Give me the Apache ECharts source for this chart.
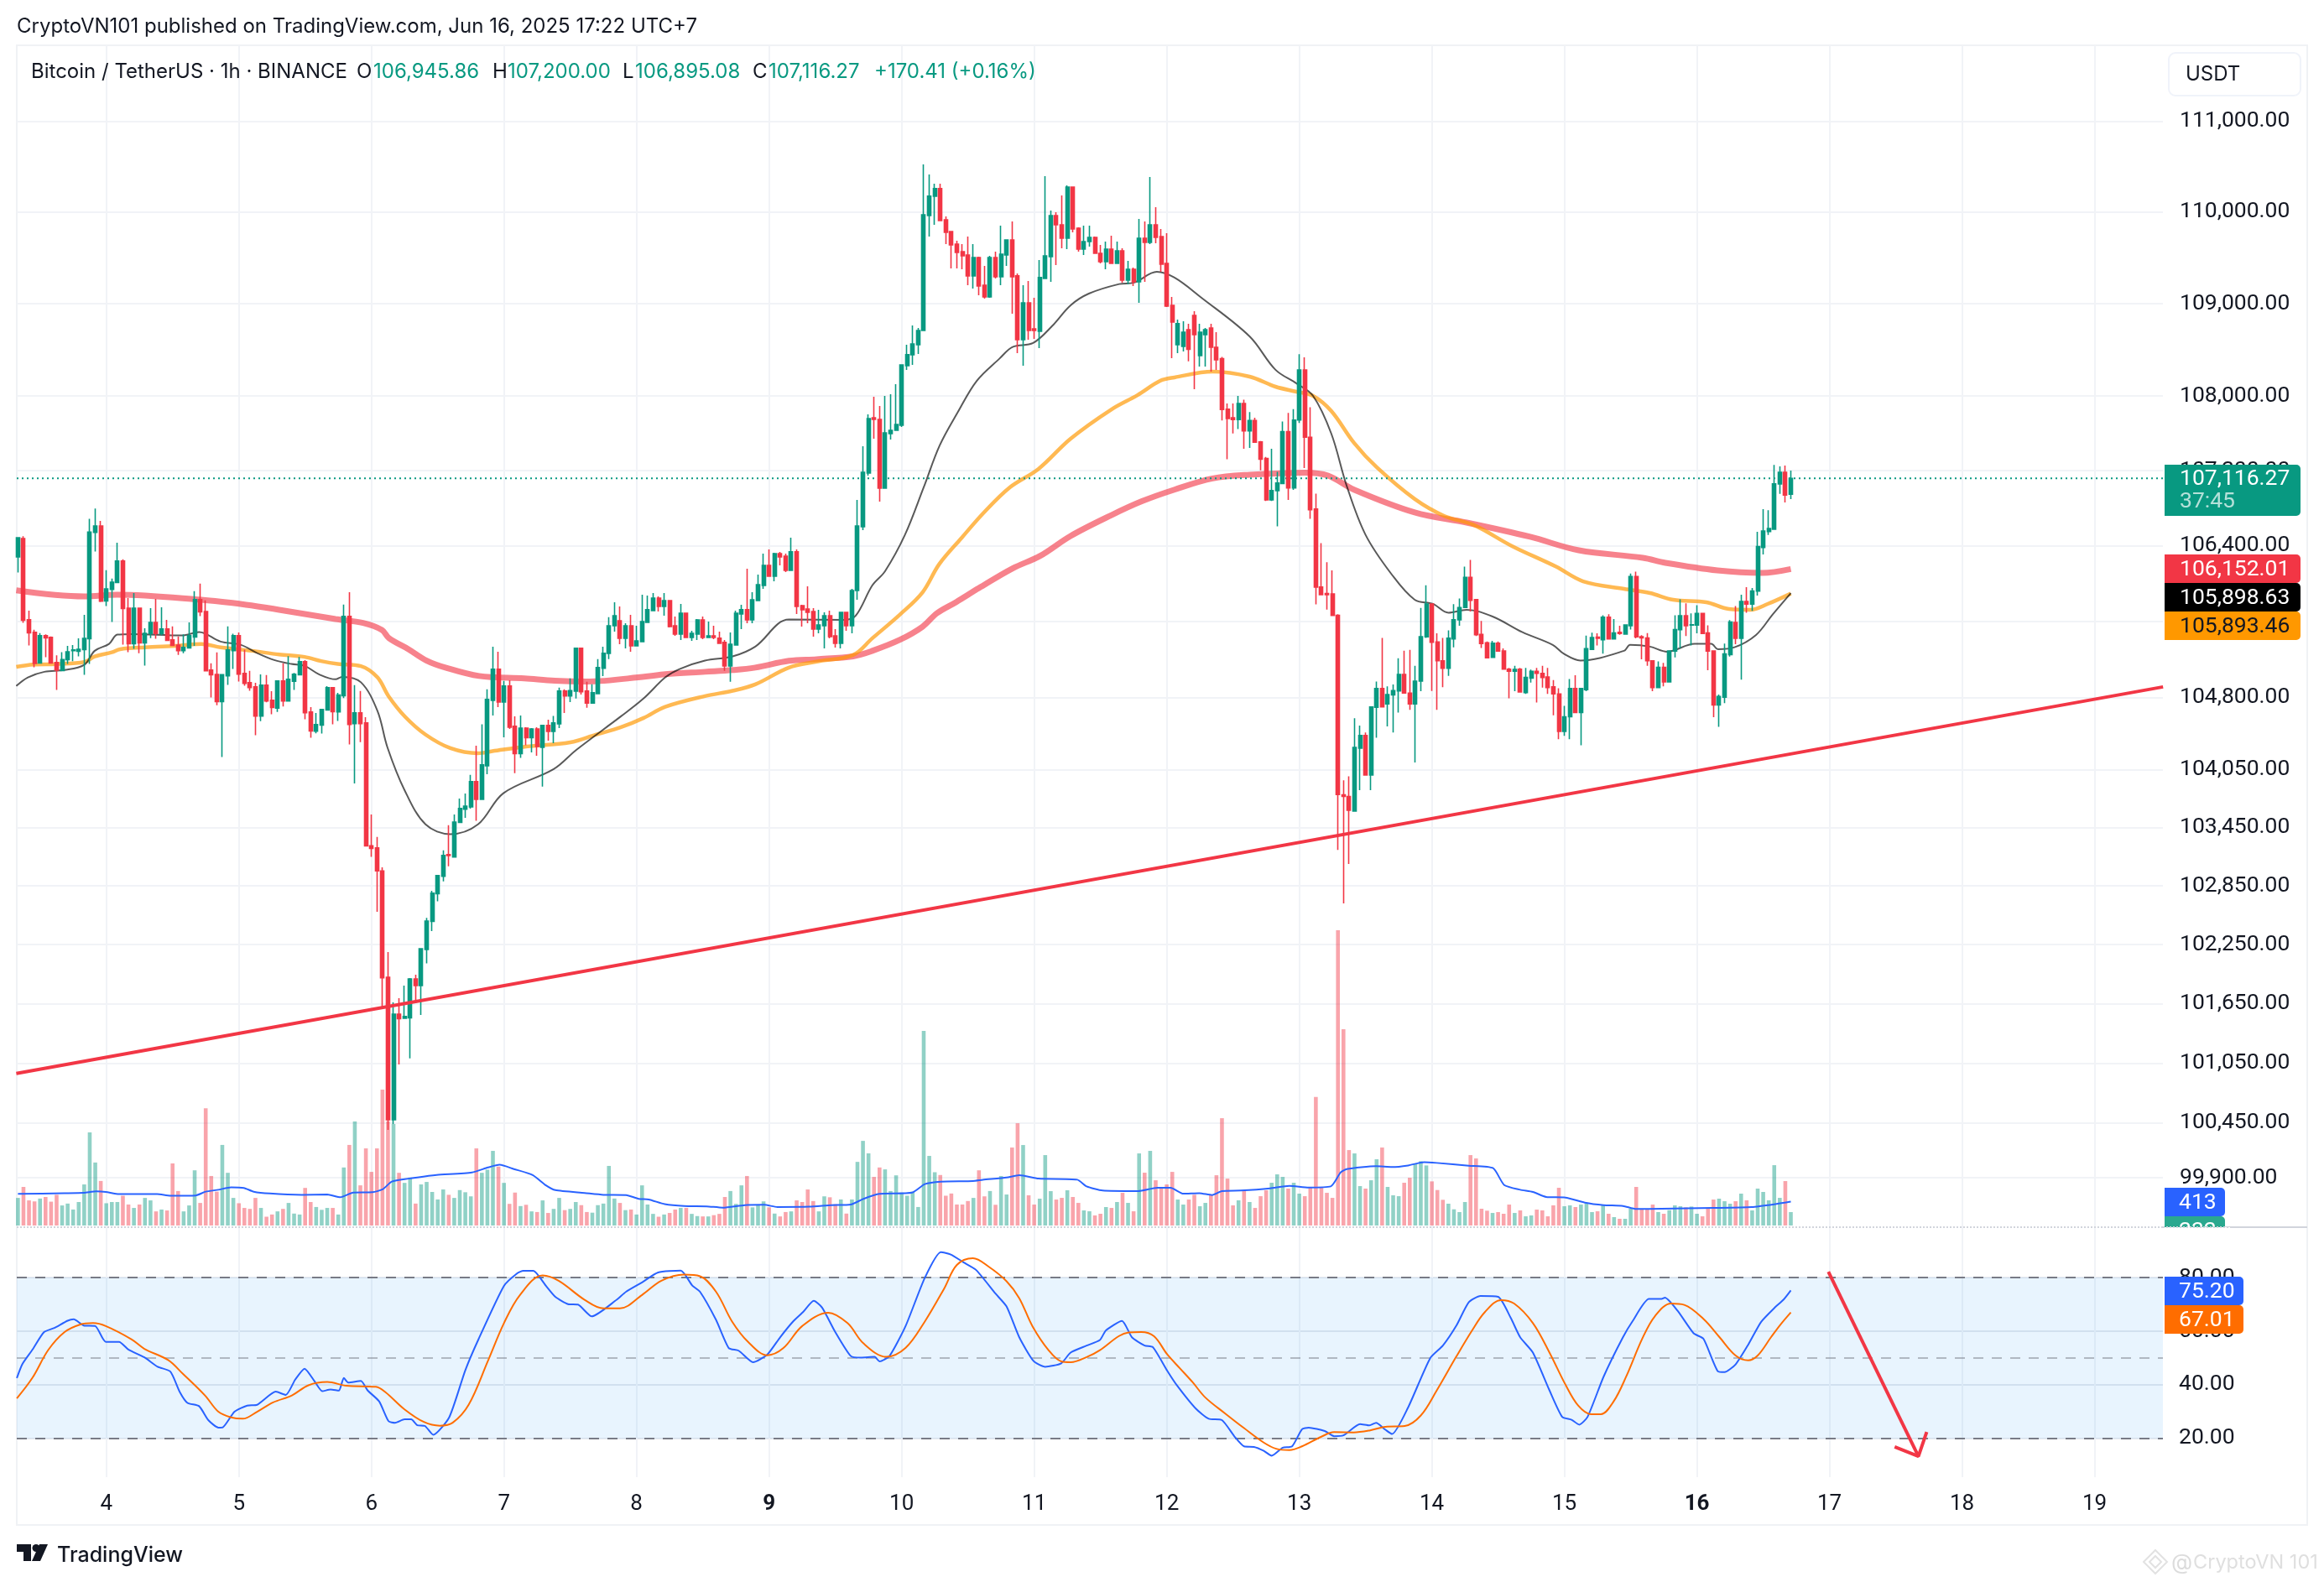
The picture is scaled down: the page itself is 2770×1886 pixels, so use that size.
<!DOCTYPE html>
<html><head><meta charset="utf-8">
<style>html,body{margin:0;padding:0;background:#fff}#c{width:2770px;height:1886px}</style>
<script src="https://cdn.jsdelivr.net/npm/echarts@6/dist/echarts.min.js"></script>
</head><body><div id="c"></div>
<script>
// Hour index of the first candle, counted from Jun 4 00:00 (UTC+7)
const firstBar = -16;
const dayLabels = ['4','5','6','7','8','9','10','11','12','13','14','15','16','17','18','19'];
const boldDays = ['9','16'];
const priceTicks = [111000,110000,109000,108000,107200,106400,105600,104800,104050,103450,102850,102250,101650,101050,100450,99900];
const rsiTicks = [20,40,60,80];
// open, high, low, close
const ohlc = [
[106280,106485,106116,106485],[106476,106500,105585,105612],[105618,105712,105346,105479],[105485,105512,105117,105158],
[105161,105476,105161,105450],[105450,105462,105223,105426],[105432,105441,105161,105161],[105167,105243,104881,105088],
[105082,105276,105082,105199],[105196,105341,105153,105279],[105291,105350,105182,105300],[105285,105420,105231,105305],
[105302,105668,105039,105420],[105417,106686,105153,106544],[106541,106795,106338,106609],[106609,106662,105803,105812],
[105815,106140,105762,105942],[105936,106051,105594,106013],[106010,106432,106010,106237],[106237,106255,105355,105736],
[105739,105845,105276,105364],[105364,105898,105311,105739],[105739,105739,105264,105373],[105373,105526,105135,105473],
[105473,105739,105423,105588],[105588,105836,105417,105473],[105473,105747,105453,105520],[105520,105615,105400,105400],
[105405,105547,105346,105346],[105350,105441,105246,105291],[105291,105462,105264,105326],[105320,105588,105320,105450],
[105435,105919,105341,105830],[105830,105998,105656,105700],[105703,105821,105080,105080],[105088,105158,104802,105039],
[105042,105273,104720,104758],[104758,105042,104180,105039],[105027,105547,104933,105300],[105291,105470,105100,105450],
[105450,105482,104969,105045],[105053,105302,104925,104948],[104957,105080,104872,104904],[104913,104954,104407,104606],
[104606,105042,104554,104931],[104931,105036,104750,104764],[104773,104866,104627,104697],[104691,104974,104650,104974],
[104974,105158,104706,104764],[104764,105234,104764,104992],[104971,105059,104881,105045],[105039,105226,105039,105176],
[105176,105191,104574,104642],[104650,104700,104382,104452],[104449,104639,104428,104519],[104513,104682,104425,104677],
[104671,104919,104671,104904],[104904,104904,104522,104653],[104650,104849,104557,104826],[104820,105777,104794,105653],
[105653,105907,104312,104519],[104527,104931,103906,104641],[104641,104869,104335,104527],[104535,104596,103262,103262],
[103262,103586,103148,103235],[103241,103353,102585,103004],[103004,103042,101612,101912],[101918,102174,100378,100480],
[100480,101663,100437,101544],[101544,101705,101036,101497],[101502,101833,101502,101519],[101506,101909,101096,101900],
[101900,101943,101654,101833],[101833,102208,101536,102208],[102200,102524,102058,102490],[102486,102801,102387,102775],
[102770,102956,102692,102956],[102948,103215,102896,103163],[103172,103474,103051,103163],[103146,103586,103146,103508],
[103503,103751,103503,103647],[103641,103803,103550,103672],[103664,103995,103647,103925],[103925,104299,103521,103742],
[103742,104522,103742,104099],[104090,104886,104003,104780],[104772,105334,104614,105096],[105096,105281,104701,104754],
[104754,104974,104386,104921],[104921,104982,104473,104491],[104500,104605,104012,104216],[104216,104614,104172,104482],
[104482,104491,104303,104381],[104381,104482,104229,104473],[104473,104491,104194,104290],[104281,104509,103873,104509],
[104509,104570,104351,104447],[104447,104609,104325,104535],[104526,104904,104482,104868],[104868,104886,104640,104816],
[104816,105000,104754,104873],[104868,105316,104790,105316],[105316,105316,104833,104860],[104868,104965,104693,104742],
[104742,104939,104742,104851],[104842,105202,104842,105114],[105106,105333,105026,105264],[105264,105643,105202,105553],
[105553,105801,105491,105660],[105607,105757,105360,105422],[105422,105580,105316,105553],[105553,105668,105281,105342],
[105342,105553,105342,105395],[105386,105880,105386,105598],[105589,105871,105589,105722],[105713,105898,105713,105845],
[105845,105863,105704,105757],[105757,105898,105660,105819],[105819,105819,105535,105544],[105553,105651,105448,105465],
[105465,105784,105404,105686],[105686,105686,105430,105430],[105430,105500,105395,105474],[105465,105624,105404,105615],
[105615,105651,105413,105430],[105430,105598,105430,105448],[105448,105553,105413,105430],[105422,105491,105369,105369],
[105378,105404,105079,105132],[105132,105482,104965,105360],[105351,105713,105351,105686],[105677,105775,105518,105722],
[105722,106155,105580,105615],[105615,105907,105580,105827],[105819,106093,105819,105987],[105978,106316,105942,106191],
[106191,106360,106076,106076],[106076,106325,106022,106316],[106316,106334,106191,106280],[106289,106316,106120,106138],
[106138,106485,106138,106334],[106334,106360,105678,105757],[105766,105775,105544,105722],[105730,105969,105580,105695],
[105704,105740,105439,105518],[105518,105722,105474,105562],[105553,105695,105316,105660],[105660,105713,105422,105439],
[105448,105518,105325,105369],[105369,105695,105316,105695],[105695,105695,105500,105553],[105553,105942,105474,105925],
[105925,106886,105827,106610],[106600,107460,106565,107182],[107173,107803,107146,107757],[107766,107992,107541,107748],
[107748,107893,106869,107012],[107012,108001,107012,107604],[107595,108019,107532,107631],[107631,108128,107631,107694],
[107685,108336,107667,108336],[108327,108553,108282,108445],[108445,108762,108336,108562],[108553,108735,108454,108708],
[108708,110523,108708,109970],[109961,110412,109731,110173],[110173,110311,109860,110256],[110256,110311,109906,109906],
[109915,109952,109648,109777],[109786,109786,109383,109639],[109648,109685,109383,109556],[109565,109648,109374,109520],
[109529,109731,109200,109301],[109301,109648,109163,109501],[109501,109510,109090,109191],[109200,109410,109054,109072],
[109072,109520,109063,109501],[109501,109565,109273,109292],[109292,109851,109200,109538],[109529,109694,109410,109694],
[109694,109897,108890,109292],[109301,109328,108463,108608],[108608,109200,108327,109008],[109008,109246,108608,108708],
[108726,109063,108617,108708],[108699,109474,108517,109283],[109273,110394,109273,109520],[109510,110016,109237,109961],
[109961,109998,109419,109860],[109860,110182,109602,109712],[109712,110292,109593,110274],[110274,110274,109777,109814],
[109823,109832,109565,109593],[109593,109851,109529,109676],[109676,109851,109620,109722],[109722,109731,109547,109547],
[109547,109639,109437,109456],[109456,109676,109374,109593],[109593,109740,109437,109437],[109437,109676,109437,109574],
[109574,109602,109228,109255],[109255,109465,109209,109374],[109374,109392,109191,109237],[109237,109924,109008,109712],
[109712,109897,109237,109667],[109667,110385,109648,109860],[109860,110053,109658,109722],[109731,109814,109346,109428],
[109437,109768,108963,108972],[108981,109072,108409,108799],[108553,108826,108463,108781],[108535,108808,108481,108690],
[108717,108781,108373,108503],[108872,108917,108072,108662],[108436,108781,108318,108690],[108662,108735,108318,108717],
[108735,108781,108264,108526],[108526,108690,108282,108391],[108402,108422,107737,107854],[107858,107919,107321,107757],
[107765,107919,107596,107745],[107745,108000,107645,107919],[107919,107959,107433,107625],[107625,107826,107442,107737],
[107737,107765,107495,107503],[107507,107515,107202,107321],[107329,107345,106874,106886],[106886,107433,106874,106986],
[106986,107186,106606,107066],[107062,107725,107062,107616],[107616,107818,106886,107014],[107014,107858,106994,107741],
[107741,108451,107709,108281],[108281,108418,107226,107556],[107556,107878,106686,106781],[106789,106954,105778,105960],
[105962,106427,105881,105881],[105893,106225,105723,105881],[105889,106137,105663,105663],[105663,105675,103220,103792],
[103788,103939,102671,103772],[103772,103981,103075,103629],[103621,104585,103613,104280],[104272,104507,103838,104405],
[104405,104436,103993,103993],[103993,104710,103838,104702],[104698,104968,104381,104894],[104894,105426,104702,104702],
[104733,104917,104499,104831],[104827,104937,104436,104874],[104870,105212,104643,105042],[105042,105291,104847,104847],
[104847,105299,104671,104733],[104733,105133,104125,104972],[104972,105742,104866,105438],[105438,105980,105426,105782],
[105782,105790,104870,105379],[105383,105474,104671,105186],[105186,105426,104909,105107],[105107,105505,105027,105422],
[105414,105782,105327,105616],[105616,105841,105553,105746],[105746,106177,105742,106065],[106065,106248,105703,105821],
[105829,105829,105446,105458],[105462,105604,105320,105367],[105375,105387,105209,105217],[105221,105395,105217,105371],
[105371,105387,105280,105288],[105288,105316,105098,105098],[105098,105110,104792,105075],[105075,105133,104866,105094],
[105098,105110,104858,104858],[104851,105110,104839,105011],[105003,105094,104956,105075],[105075,105110,104749,105054],
[105054,105133,104905,105011],[105015,105110,104839,104905],[104913,104984,104616,104839],[104839,104898,104366,104448],
[104448,104714,104401,104600],[104600,104995,104366,104894],[104894,105034,104636,104643],[104643,104898,104303,104894],
[104882,105450,104866,105312],[105304,105481,105304,105430],[105434,105473,105347,105422],[105406,105663,105260,105644],
[105644,105675,105414,105414],[105414,105624,105414,105477],[105485,105553,105458,105473],[105466,105561,105466,105561],
[105553,106105,105513,106073],[106073,106125,105422,105438],[105438,105454,105201,105426],[105426,105477,105133,105186],
[105186,105190,104866,104905],[104905,105178,104905,105117],[105117,105163,104917,104964],[104964,105288,104956,105288],
[105288,105663,105221,105513],[105513,105833,105316,105659],[105659,105790,105446,105553],[105561,105683,105347,105565],
[105561,105770,105473,105683],[105683,105683,105473,105473],[105477,105557,105086,105288],[105288,105288,104596,104722],
[104722,104831,104495,104812],[104804,105367,104741,105257],[105249,105612,105229,105592],[105588,105762,105359,105422],
[105422,105881,104987,105809],[105809,105960,105691,105782],[105782,105952,105711,105921],[105918,106547,105872,106390],
[106381,106788,106307,106556],[106550,106776,106514,106583],[106574,107261,106574,107057],[107057,107245,106950,107182],
[107182,107254,106860,106938],[106946,107200,106895,107116]
];
const volumes = [
477,667,434,417,466,493,412,531,347,379,276,406,710,1610,1089,770,
385,406,406,515,363,304,363,477,434,244,276,260,1073,596,244,347,954,390,2027,856,585,1393,911,477,
385,304,287,477,304,152,190,244,287,390,206,190,650,406,320,271,304,304,190,1003,1393,1799,694,1333,
927,1333,2349,1798,1755,911,737,829,379,710,753,580,450,623,531,477,612,575,504,1333,911,965,1290,1019,
737,374,569,336,358,244,233,434,217,287,477,266,287,406,352,233,222,352,379,1030,466,390,266,276,190,694,
363,201,152,190,217,276,304,304,201,163,157,157,179,201,493,596,374,694,856,314,363,417,314,206,157,233,
244,434,406,623,423,244,504,488,369,450,206,450,1100,1463,1247,840,1003,970,596,867,569,515,585,320,3364,
1203,921,873,515,553,363,363,423,477,954,504,596,358,856,
536,1348,1768,1391,522,362,464,1217,594,449,478,609,493,391,261,246,174,203,319,304,406,565,391,246,1246,
913,1290,782,652,710,927,449,362,449,531,333,391,522,869,1855,811,348,435,609,406,304,507,609,739,884,840,
638,739,551,507,652,2222,667,565,478,5104,3393,1304,1246,681,638,782,1145,1348,667,522,507,739,826,1072,
1111,1038,763,613,444,377,280,232,406,1217,1159,290,256,217,232,203,362,217,261,159,174,275,261,159,348,
652,333,348,319,362,377,232,246,348,203,145,116,116,290,667,290,275,362,232,203,266,348,333,314,328,203,
159,290,449,464,420,377,420,551,435,261,638,580,435,1043,478,768,232
];
// [hour index, value] pairs
const volumeMa = [[-16,547],[-7.6,558],[-4.1,564],[-1.8,591],[-0.1,580],[2.3,542],[9.2,542],[11.6,515],[16.2,520],[18,585],[20.3,618],[22.6,661],[24.9,650],[26.7,585],[29.6,553],[35.4,531],[40,537],[42.4,488],[44.7,569],[48.2,575],[50.1,629],[51.7,759],[56.3,829],[59.8,872],[66.2,916],[69.1,1003],[71.2,1051],[73.8,976],[77.2,873],[79.6,694],[81.3,612],[86.6,563],[90,531],[94.1,526],[96.4,461],[98.2,450],[101.1,369],[104.6,336],[108.7,331],[111.6,309],[115.6,353],[119.1,358],[121.5,320],[127.3,325],[131.3,352],[134.8,363],[137.1,461],[140,547],[145.9,569],[148.2,715],[151.1,759],[156.9,770],[158.7,791],[163,831],[165.3,869],[168.8,811],[175.8,792],[177.5,676],[180.4,604],[186.8,594],[190.3,652],[192.7,652],[195,550],[197.9,560],[200.2,527],[202,594],[205.4,604],[210.7,642],[214.2,686],[217.7,657],[221.7,676],[223.5,918],[224.6,975],[229.9,1024],[232.8,1010],[235.7,1038],[238.6,1096],[240.9,1082],[246.7,1034],[251.1,990],[253.1,700],[256,618],[258.3,580],[260.7,493],[264.2,483],[267.7,396],[271.1,353],[274.6,338],[277,285],[281.6,290],[290.9,304],[297.9,319],[302,367],[305,413]];
const ema200 = [[-16.3,105927],[-4.05,105863],[2,105881],[17.2,105827],[25.3,105775],[31.3,105722],[41.5,105624],[46.5,105583],[49.9,105509],[51.2,105422],[54.7,105307],[58,105187],[61.4,105114],[67.5,105026],[75.7,105000],[81.2,104976],[87,104968],[97.7,105020],[101.2,105044],[108.4,105070],[113.4,105088],[117.5,105114],[123.6,105185],[128.6,105202],[135.2,105232],[138.7,105290],[143.7,105406],[147.8,105544],[150.4,105686],[153.9,105804],[158,105951],[164.1,106159],[169.1,106292],[174.6,106503],[182,106725],[187.5,106872],[193.4,106996],[200.3,107115],[207,107155],[217.1,107178],[221.2,107146],[225.9,106996],[236.9,106753],[246.3,106645],[257.8,106494],[266.6,106351],[278.2,106271],[282.3,106218],[291.7,106138],[299.8,106111],[305,106152]];
const ema100 = [[-16.3,105122],[-13.2,105146],[-9.1,105151],[-4,105172],[-2.1,105230],[1,105274],[2.5,105307],[7,105327],[13.1,105344],[17.2,105362],[20.7,105327],[26.3,105290],[31.3,105252],[35.9,105226],[38.9,105182],[41.9,105152],[46.1,105129],[49.1,105011],[51.1,104815],[54.1,104600],[57.8,104414],[62.3,104273],[67.3,104220],[69.9,104241],[76,104290],[84,104334],[88.6,104413],[93.2,104491],[97.3,104588],[101.2,104704],[108.4,104816],[113.4,104871],[117.5,104938],[123.6,105114],[128.6,105176],[135.2,105246],[138.7,105422],[143.7,105672],[147.8,105907],[150.8,106203],[154.9,106485],[158.9,106752],[163.6,107020],[168.8,107218],[174.6,107541],[182,107856],[186.7,108009],[190.8,108163],[193.4,108200],[200.3,108263],[207,108209],[211.7,108100],[215.5,108046],[218.5,108001],[221.8,107838],[225.9,107497],[230,107236],[236.9,106896],[242.2,106717],[247.6,106619],[254.5,106396],[262.5,106177],[267.4,106022],[274.8,105942],[279.5,105898],[283.7,105827],[289.7,105801],[293.8,105730],[297.7,105722],[300.8,105783],[305,105893]];
const ema20 = [[-16.3,104921],[-14.2,105011],[-11.2,105070],[-7.6,105088],[-4,105143],[-2.1,105290],[0.5,105363],[2,105460],[4.6,105466],[13.7,105451],[16.8,105487],[20.7,105387],[24.4,105352],[27.4,105264],[30.4,105193],[33.5,105152],[35.9,105132],[38.5,105044],[41.5,104991],[42.7,105017],[46.1,104960],[49.1,104660],[50.9,104281],[54,103837],[57.8,103483],[62.3,103382],[67.3,103483],[71.9,103806],[81,104055],[85.1,104255],[93.2,104605],[97.3,104792],[101.2,105011],[103.8,105099],[108.4,105187],[113.4,105231],[117.5,105334],[123.6,105619],[133.7,105616],[135.7,105660],[138.7,105980],[141,106129],[144.6,106514],[148,107021],[150.9,107470],[154.2,107829],[157.6,108163],[161.7,108402],[164.1,108529],[167.8,108572],[171.2,108753],[174.6,108981],[177.9,109108],[183.4,109212],[186.1,109228],[190.2,109346],[193.4,109282],[198.1,109072],[207,108644],[211.7,108282],[215.5,108135],[218.5,108001],[221.8,107595],[224.6,107034],[228,106515],[232.7,106098],[236.9,105828],[240.2,105784],[243,105691],[246.3,105722],[251,105651],[256.4,105486],[261.9,105352],[263.9,105259],[266.9,105188],[274.8,105290],[275.9,105352],[279.5,105334],[282.6,105281],[287.6,105363],[290.6,105363],[291.8,105307],[294.8,105327],[298.7,105457],[301.7,105672],[305,105898]];
const trendLine = [[-16.3,100944],[372.4,104912]];
const lastClose = 107116.27;
const rsi = [[-16.2,42.5],[-15.2,47.7],[-13.4,53],[-11.3,59.6],[-9.4,61.2],[-7,63.9],[-5.9,64.4],[-4.1,62.1],[-2,61.9],[-0.1,56],[2.3,56],[4,53.1],[6.9,50.2],[9.3,46.7],[11.6,44.9],[13.3,37.3],[14.7,33.2],[16.8,32],[18.5,26.7],[20.3,24],[21.1,24.1],[23.2,29.9],[25.5,32.2],[27.3,32.5],[30.7,37.4],[32.5,36.2],[34.2,41.9],[35.9,46],[37.7,41.3],[39.1,37.6],[40.6,38.2],[42.1,37.8],[43,42.5],[43.8,40.8],[46.1,41.4],[47.3,37.9],[49.4,33.8],[51.1,26.4],[52.3,25.8],[54,27.1],[55.2,27.1],[56.3,24.9],[57.7,24.6],[59.2,21.3],[62.1,27.9],[65,45.4],[67.4,57],[72,76.9],[74.4,81.6],[75.5,82.5],[77.3,82.5],[79.6,76.9],[81.3,72.8],[83.6,70.1],[85.4,69.9],[87.9,65.5],[92.4,71.7],[94.1,74.7],[97,78.2],[99.9,81.9],[104,82.6],[106.1,77],[107.5,74.7],[110.4,64.2],[112.7,53.7],[114.5,52.7],[117.1,48.4],[119.7,51.3],[122,57.7],[124.3,63.5],[126.1,67],[128.1,71.3],[129.6,68.8],[131.9,60],[134.8,50.7],[136.6,50.1],[139.1,50.4],[140,48.7],[141.8,50.7],[144.7,61.8],[148.2,79.9],[151.1,89.5],[152.9,88.6],[155.2,85.7],[157.5,82.8],[161,74],[163,69.2],[165.3,57.7],[167.9,48.8],[170,46.7],[172.9,48],[174.6,52],[177.5,54.6],[179.9,56.7],[181,60.3],[183.9,63.8],[185.7,57.7],[188,54.6],[189.5,54],[192.1,45.2],[193.8,39.9],[197.3,31],[199.6,27.3],[202,26.8],[204.3,20.6],[206,17],[207.8,16.8],[209.5,15.4],[211,13.5],[213,16.5],[214.7,17],[216.5,23.4],[217.7,24],[220.6,22.7],[222.3,20.8],[224,21.1],[227,25.3],[228.7,24.8],[229.9,25.8],[231.6,23.2],[232.8,21.6],[235.7,31.5],[239.7,49.9],[242,54.6],[244.4,61.9],[246.7,70.8],[248.8,73.1],[252,72.8],[254.3,64.9],[256,57.7],[258.3,52],[261.3,37.9],[263.6,28],[265.3,26.9],[266.7,25.1],[268.2,28],[271.1,43],[274.6,57.7],[276.4,63.9],[279.3,72],[281.6,72],[282.2,72.5],[284.5,67.6],[287.4,59.2],[289.2,57.1],[291.8,45],[293,44.7],[295,47.6],[297.3,55],[299.6,63.4],[302,68.6],[303.7,71.8],[305,75.2]];
const rsiMa = [[-16.2,34.9],[-13.4,42.5],[-10.5,53],[-7.6,59.6],[-4.7,62.5],[-2.4,63],[-0.1,61.9],[4.6,56.9],[6.9,53.4],[11.2,49.2],[13.9,44],[17.9,35.9],[20.3,29.9],[22.6,27.8],[24.7,27.3],[27.3,29.9],[30.2,33.4],[33.6,36],[36.6,39.8],[40,41],[43.5,39.6],[48.8,39.2],[50.5,37.3],[54,30.8],[57.5,26.1],[60.4,24.7],[62.7,25.8],[65.6,32.5],[69.1,48.9],[72,63],[74.9,73.5],[79,80.8],[81.9,78.8],[86.6,71.7],[90,68.5],[93,68.5],[97,73.5],[100.5,78.8],[104.6,81.1],[107.5,80.5],[110.4,74.7],[113.3,63.6],[116.2,56],[119.7,51],[122.6,53.7],[126,61.9],[130.7,66.9],[134.2,63],[137.1,55.4],[141.2,50.4],[144.7,53.7],[148.2,63.6],[151.7,75.9],[154,84.7],[156.9,87.2],[159.8,84],[163,78.6],[165.3,72.3],[167.7,61.8],[170.6,52.9],[172.9,48.7],[174.6,48.4],[177.5,50.3],[179.9,52.9],[183.3,58.1],[185.1,59.5],[187.4,59.7],[189.7,58.1],[192.1,51.3],[194.4,46.1],[196.7,40.9],[199,35.2],[202.5,29.4],[206,23.8],[209.5,18.5],[211.8,16.1],[214.2,15.6],[216.5,17],[220,20.6],[222.3,22.3],[225.8,22.2],[228.7,22.9],[231.6,24.3],[235.1,24.6],[238,28.5],[240.9,37.9],[244.4,50.4],[247.3,60.3],[249.6,67.1],[252.5,71.6],[254.9,70.3],[258.3,63],[261.3,52],[264.2,40],[266.5,32.2],[268.8,29],[270.6,29],[272.9,33.7],[275.2,43.1],[278.1,57.2],[280.4,65.6],[283.3,70.3],[285.7,69.8],[289.2,64.5],[292.1,57.7],[295,50.9],[297.3,49.1],[299,50.9],[301.4,57.7],[303.1,62.4],[305,67.01]];
const arrowShaft = [[311.8,82.2],[328.1,13.3]];
const arrowHead = [[323.8,16.8],[328.1,13.3],[329.6,22.4]];

const GREEN='#089981', RED='#f23645', INK='#131722', FONT='Inter', NUM='Roboto';
const candles = ohlc.map((r,i)=>[firstBar+i,r[0],r[3],r[2],r[1]]);
const volBars = volumes.map((v,i)=>({value:[firstBar+i,v],itemStyle:{color:ohlc[i][3]>=ohlc[i][0]?'rgba(8,153,129,.45)':'rgba(242,54,69,.45)'}}));
const dayTicks = dayLabels.map((_,i)=>i*24);
const xMin=-16.21, xMax=372.37;
const gridLine={show:true,lineStyle:{color:'#f1f3f7',width:2}};
const none={show:false};
const line=(name,data,color,width,xi,yi,z,extra)=>Object.assign({name,type:'line',data,xAxisIndex:xi,yAxisIndex:yi,symbol:'none',smooth:false,z,silent:true,lineStyle:{color,width},itemStyle:{color}},extra||{});
const soft=s=>({smooth:s});

const chart=echarts.init(document.getElementById('c'),null,{renderer:'canvas',width:2770,height:1886});
const T=(text,x,y,size,fill,extra)=>({type:'text',z:100,style:Object.assign({text,x,y,fill,font:`${size}px ${FONT}`,verticalAlign:'middle'},extra||{})});
const N=(text,x,y,fill)=>T(text,x,y,26.5,fill,{font:`26.5px ${NUM}`});
const tag=(x,y,w,h,fill)=>({type:'rect',z:99,shape:{x,y,width:w,height:h,r:[0,5,5,0]},style:{fill}});
const graphic=[
 {type:'rect',z:-1,shape:{x:20,y:54,width:2730,height:1764},style:{fill:'none',stroke:'#f0f2f5',lineWidth:2}},
 {type:'line',z:90,shape:{x1:20,y1:1463,x2:2750,y2:1463},style:{stroke:'#d1d4dc',lineWidth:2,lineDash:[2,2]}},
 {type:'rect',z:99,shape:{x:2585,y:63,width:157,height:51,r:8},style:{fill:'#fff',stroke:'#f0f3fa',lineWidth:2}},
 T('USDT',2605,89,24,INK),
 T('CryptoVN101 published on TradingView.com, Jun 16, 2025 17:22 UTC+7',20,32,24,INK),
 T('Bitcoin / TetherUS · 1h · BINANCE',37,86,24,INK),
 T('O',425,86,24,INK),T('106,945.86',445,86,24,GREEN),
 T('H',587,86,24,INK),T('107,200.00',605,86,24,GREEN),
 T('L',742,86,24,INK),T('106,895.08',757,86,24,GREEN),
 T('C',897,86,24,INK),T('107,116.27',916,86,24,GREEN),
 T('+170.41 (+0.16%)',1042,86,24,GREEN),
 tag(2580,554,162,61,GREEN),
 N('107,116.27',2598,571,'#fff'),N('37:45',2598,598,'rgba(255,255,255,.7)'),
 tag(2580,661,162,34,RED),N('106,152.01',2598,679,'#fff'),
 tag(2580,695,162,34,'#000'),N('105,898.63',2598,713,'#fff'),
 tag(2580,729,162,34,'#ff9800'),N('105,893.46',2598,747,INK),
 tag(2580,1416,72,34,'#2962ff'),N('413',2597,1434,'#fff'),
 tag(2580,1450,72,34,'#2aa88f'),N('232',2597,1468,'#fff'),
 {type:'rect',z:101,shape:{x:2579,y:1463,width:80,height:24},style:{fill:'#fff'}},
 {type:'line',z:102,shape:{x1:2578,y1:1463,x2:2750,y2:1463},style:{stroke:'#d1d4dc',lineWidth:2,lineDash:[2,2]}},
 tag(2580,1522,94,34,'#2962ff'),N('75.20',2597,1540,'#fff'),
 tag(2580,1556,94,34,'#ff6d00'),N('67.01',2597,1574,'#fff'),
 {type:'polygon',z:100,shape:{points:[[20,1841],[37,1841],[37,1861],[28,1861],[28,1850],[20,1850]]},style:{fill:INK}},
 {type:'polygon',z:100,shape:{points:[[57,1841],[48,1861],[38,1861],[47,1841]]},style:{fill:INK}},
 {type:'circle',z:100,shape:{cx:43,cy:1845.5,r:4.5},style:{fill:INK}},
 T('TradingView',68,1854,25,INK,{font:`500 25px ${FONT}`}),
 {type:'polygon',z:100,shape:{points:[[2569,1848],[2583,1862],[2569,1876],[2555,1862]]},style:{fill:'none',stroke:'#e2e2e2',lineWidth:2}},
 {type:'polygon',z:100,shape:{points:[[2569,1855],[2576,1862],[2569,1869],[2562,1862]]},style:{fill:'none',stroke:'#e2e2e2',lineWidth:2}},
 T('@',2588,1863,26,'#dcdcdc'),
 T('CryptoVN 101',2614,1863,23.5,'#dfdfdf')
];
const option={
 animation:false,backgroundColor:'#fff',textStyle:{fontFamily:FONT},
 grid:[{left:20,top:54,width:2558,height:1409,containLabel:false},{left:20,top:1463,width:2558,height:298,containLabel:false}],
 xAxis:[
  {type:'value',gridIndex:0,min:xMin,max:xMax,axisLine:none,axisLabel:{show:false,customValues:dayTicks},axisTick:{show:false,customValues:dayTicks},splitLine:gridLine},
  {type:'value',gridIndex:1,min:xMin,max:xMax,axisLine:none,axisTick:{show:false,customValues:dayTicks},splitLine:gridLine,
   axisLabel:{customValues:dayTicks,margin:19,color:INK,fontSize:26,fontFamily:NUM,
    formatter:v=>{const d=dayLabels[Math.round(v/24)];return boldDays.includes(d)?`{b|${d}}`:d;},
    rich:{b:{fontWeight:700,fontSize:26,fontFamily:NUM,color:INK}}}}
 ],
 yAxis:[
  {type:'log',gridIndex:0,position:'right',min:110000*Math.exp(-(1462-251.7)/11955),max:110000*Math.exp(198.7/11955),axisLine:none,axisTick:{show:false,customValues:priceTicks},splitLine:gridLine,
   axisLabel:{customValues:priceTicks,margin:20,padding:[2,0,0,0],color:INK,fontSize:26.5,fontFamily:NUM,formatter:v=>Number(v).toLocaleString('en-US',{minimumFractionDigits:2,maximumFractionDigits:2})}},
  {type:'value',gridIndex:0,min:-29,max:20400,show:false,splitLine:none},
  {type:'value',gridIndex:1,position:'right',min:5.5,max:98.8,axisLine:none,axisTick:{show:false,customValues:rsiTicks},splitLine:{show:true,lineStyle:{color:'#e6e9ef',width:2}},
   axisLabel:{customValues:rsiTicks,margin:19,padding:[7,0,0,0],color:INK,fontSize:26.5,fontFamily:NUM,formatter:v=>Number(v).toFixed(2)}}
 ],
 series:[
  {name:'Volume',type:'bar',data:volBars,xAxisIndex:0,yAxisIndex:1,barWidth:4.6,z:1,silent:true},
  line('Volume MA',volumeMa,'#2962ff',2,0,1,2,soft(0.2)),
  line('EMA 200',ema200,'rgba(242,54,69,.62)',7,0,0,3,soft(0.35)),
  line('EMA 100',ema100,'rgba(255,152,0,.68)',4.5,0,0,3,soft(0.35)),
  line('EMA 20',ema20,'rgba(0,0,0,.65)',2,0,0,3,soft(0.35)),
  {name:'BTCUSDT',type:'candlestick',data:candles,encode:{x:0,y:[1,2,3,4]},xAxisIndex:0,yAxisIndex:0,barWidth:4.5,z:4,silent:true,
   itemStyle:{color:GREEN,color0:RED,borderColor:GREEN,borderColor0:RED,borderWidth:1.6}},
  line('Last price',[[xMin,lastClose],[xMax,lastClose]],GREEN,2,0,0,3,{lineStyle:{color:GREEN,width:2,type:[2,4]}}),
  line('Trend line',trendLine,RED,4,0,0,5),
  line('RSI',rsi,'#2962ff',2,1,2,3,Object.assign(soft(0.2),{markArea:{silent:true,z:1,itemStyle:{color:'rgba(33,150,243,.1)'},data:[[{xAxis:xMin,yAxis:20},{xAxis:xMax,yAxis:80}]]},
    markLine:{silent:true,symbol:'none',label:{show:false},z:2,data:[
     {yAxis:80,lineStyle:{color:'#787b86',width:2,type:[12,10]}},
     {yAxis:50,lineStyle:{color:'rgba(120,123,134,.5)',width:2,type:[12,10]}},
     {yAxis:20,lineStyle:{color:'#787b86',width:2,type:[12,10]}}]}})),
  line('RSI MA',rsiMa,'#ff6d00',2,1,2,4,soft(0.35)),
  line('Arrow shaft',arrowShaft,RED,4,1,2,5),
  line('Arrow head',arrowHead,RED,4,1,2,5)
 ],
 graphic:{elements:graphic}
};
chart.setOption(option);
</script></body></html>
